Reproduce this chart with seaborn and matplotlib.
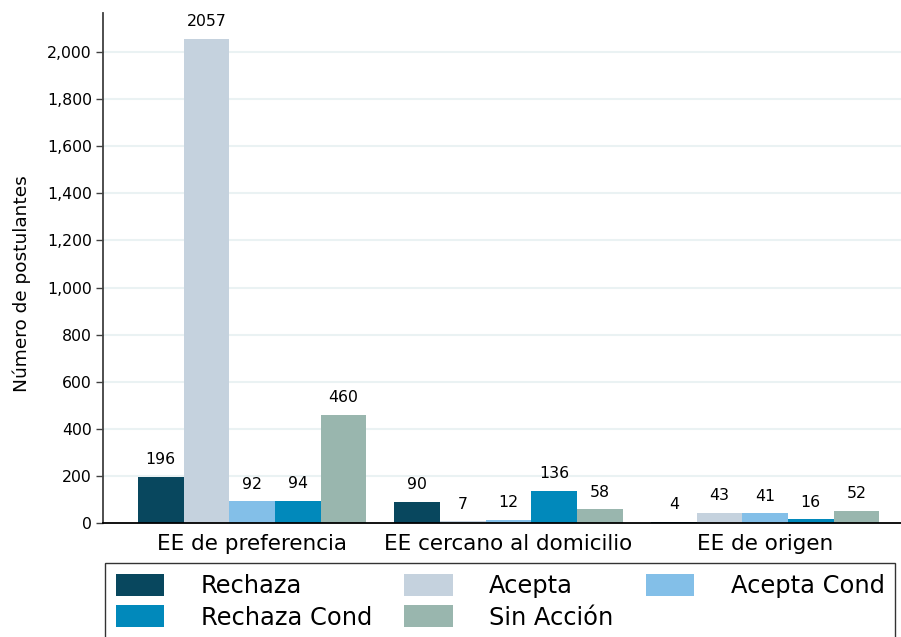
import matplotlib
matplotlib.use("Agg")
import matplotlib.pyplot as plt
import seaborn as sns
import pandas as pd

categories = ["EE de preferencia", "EE cercano al domicilio", "EE de origen"]
series = ["Rechaza", "Acepta", "Acepta Cond", "Rechaza Cond", "Sin Acción"]
rechaza = [196, 90, 4]
acepta = [2057, 7, 43]
acepta_cond = [92, 12, 41]
rechaza_cond = [94, 136, 16]
sin_accion = [460, 58, 52]
colors = ["#08475e", "#c5d2de", "#83bfe8", "#0189bb", "#99b6ae"]
yticks = [0, 200, 400, 600, 800, 1000, 1200, 1400, 1600, 1800, 2000]

values = [rechaza, acepta, acepta_cond, rechaza_cond, sin_accion]
rows = []
for s, vals in zip(series, values):
    for c, v in zip(categories, vals):
        rows.append({"cat": c, "serie": s, "val": v})
df = pd.DataFrame(rows)

sns.set_theme(style="white")
plt.rcParams["font.family"] = ["DejaVu Sans"]

W, H = 901, 637
fig = plt.figure(figsize=(W / 100, H / 100), dpi=100)
ax = fig.add_axes([103 / W, 1 - 523 / H, 1 - 103 / W, (523 - 13) / H])

sns.barplot(data=df, x="cat", y="val", hue="serie", order=categories,
            hue_order=series, palette=colors, width=0.89, gap=0,
            linewidth=0, saturation=1, ax=ax, errorbar=None)

for cont in ax.containers:
    ax.bar_label(cont, fmt="%d", padding=7, fontsize=11.3, color="black")

ax.set_xlim(-0.581, 2.53)
ax.set_ylim(0, 2166)
ax.set_yticks(yticks)
ax.set_yticklabels([f"{t:,}" for t in yticks], fontsize=11.3, color="black")
ax.tick_params(axis="y", length=5, width=1, color="#404040", pad=3, left=True)
ax.tick_params(axis="x", length=0, pad=8, labelsize=15.5, labelcolor="black")
ax.set_xlabel("")
ax.set_ylabel("Número de postulantes", fontsize=13.3, color="black")
ax.yaxis.set_label_coords(-0.0902, 0.47)

for t in yticks[1:]:
    ax.axhline(t, color="#eaf2f3", lw=1.5, zorder=0)

for s in ["top", "right"]:
    ax.spines[s].set_visible(False)
ax.spines["left"].set_color("#404040")
ax.spines["left"].set_linewidth(1.3)
ax.spines["bottom"].set_color("black")
ax.spines["bottom"].set_linewidth(1.3)

handles, labels = ax.get_legend_handles_labels()
ax.get_legend().remove()
# row-major ordering for a 3-column, 2-row legend
order = [0, 3, 1, 4, 2]
handles = [handles[i] for i in order]
labels = [labels[i] for i in order]
leg = fig.legend(handles, labels, loc="upper left",
                 bbox_to_anchor=(105 / W, 1 - 563 / H), ncol=3,
                 fontsize=17.4, frameon=True, fancybox=False, shadow=False,
                 borderaxespad=0, borderpad=0.44, handlelength=2.0,
                 handleheight=1.03, handletextpad=1.52, columnspacing=1.33,
                 labelspacing=0.3)
for t in leg.get_texts():
    t.set_color("black")
leg.get_frame().set_edgecolor("black")
leg.get_frame().set_linewidth(1.0)
leg.get_frame().set_facecolor("white")

fig.savefig("out.png", dpi=100)
